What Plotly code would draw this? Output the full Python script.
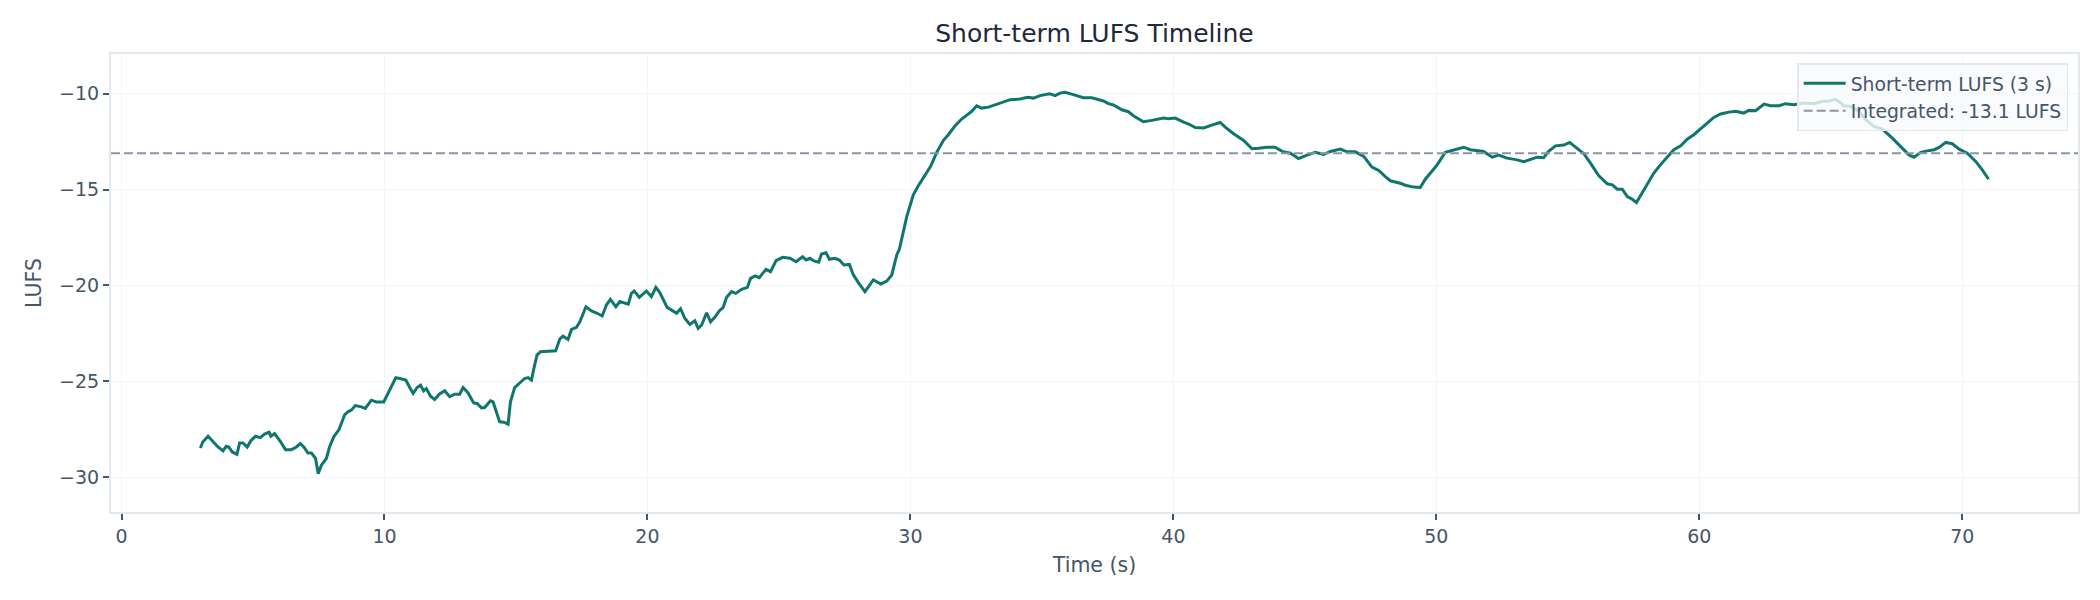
import plotly.graph_objects as go

# short-term loudness readings (time in s, loudness in LUFS)
time_s = [
    3.00, 3.09, 3.29, 3.48, 3.67, 3.86, 3.98, 4.08, 4.21, 4.39, 4.49, 4.62, 4.78, 4.93,
    5.10, 5.28, 5.44, 5.61, 5.68, 5.82, 6.01, 6.24, 6.46, 6.65, 6.80, 6.93, 7.09, 7.22,
    7.38, 7.48, 7.60, 7.79, 7.91, 8.07, 8.27, 8.49, 8.61, 8.74, 8.89, 9.12, 9.27, 9.50,
    9.69, 9.97, 10.20, 10.43, 10.58, 10.81, 10.96, 11.09, 11.24, 11.37, 11.49, 11.59,
    11.75, 11.91, 12.08, 12.29, 12.48, 12.67, 12.86, 12.99, 13.18, 13.39, 13.52, 13.69,
    13.81, 14.03, 14.13, 14.26, 14.38, 14.54, 14.70, 14.79, 14.95, 15.12, 15.33, 15.46,
    15.59, 15.68, 15.80, 15.93, 16.22, 16.51,
    16.67, 16.79, 16.98, 17.11, 17.30, 17.43, 17.66, 17.87, 18.09, 18.28, 18.44, 18.59,
    18.80, 18.95, 19.27, 19.39, 19.50, 19.69, 19.96, 20.15, 20.32, 20.47, 20.75, 20.98,
    21.11, 21.26, 21.42, 21.61, 21.80, 21.93, 22.06, 22.25, 22.40, 22.56, 22.73, 22.88,
    23.01, 23.20, 23.36, 23.58, 23.80, 23.92, 24.09, 24.25, 24.51, 24.68, 24.89, 25.14,
    25.42, 25.65, 25.90, 26.03, 26.18, 26.33, 26.51, 26.62, 26.79, 26.92, 27.13, 27.30,
    27.47, 27.68, 27.83, 28.02, 28.27, 28.59, 28.88, 29.10, 29.29, 29.48, 29.58, 29.86,
    30.11, 30.30, 30.56, 30.77,
    31.00, 31.25, 31.44, 31.70, 31.95, 32.21, 32.33, 32.52, 32.71, 32.97, 33.22, 33.47,
    33.79, 34.17, 34.46, 34.68, 34.93, 35.29, 35.50, 35.69, 35.88, 36.20, 36.58, 36.90,
    37.34, 37.53, 37.72, 38.04, 38.29, 38.51, 38.86, 39.18, 39.43, 39.62, 39.81, 40.07,
    40.39, 40.58, 40.83, 41.15, 41.46, 41.78, 41.97, 42.29, 42.67, 42.99, 43.24, 43.56,
    43.87, 44.17, 44.45, 44.76, 45.08, 45.40, 45.71, 45.97, 46.35, 46.60, 46.92, 47.24,
    47.55, 47.81, 48.06, 48.25, 48.63, 48.82, 49.14, 49.39, 49.58, 49.90,
    50.03, 50.34, 50.60, 50.85, 51.04, 51.29, 51.55, 51.80, 52.12, 52.37, 52.69, 53.07,
    53.32, 53.58, 53.83, 54.08, 54.27, 54.53, 54.85, 55.07, 55.33, 55.61, 55.86, 56.18,
    56.50, 56.69, 56.88, 57.07, 57.26, 57.45, 57.61, 57.76, 58.02, 58.27, 58.52, 58.78,
    59.03, 59.29, 59.54, 59.79, 60.05, 60.30, 60.55, 60.81, 61.12, 61.38, 61.69, 61.88,
    62.14, 62.46, 62.71, 63.03, 63.28, 63.60, 63.98, 64.36, 64.68, 64.93, 65.15, 65.31,
    65.50, 65.75, 66.07, 66.33, 66.64, 66.96, 67.34, 67.66, 67.97, 68.16, 68.42, 68.67,
    68.93, 69.12, 69.37, 69.62, 69.88, 70.19, 70.51, 70.76, 71.00,
]
lufs = [
    -28.47, -28.16, -27.86, -28.16, -28.42, -28.62, -28.38, -28.42, -28.68, -28.80, -28.21, -28.21, -28.42, -28.07,
    -27.86, -27.93, -27.75, -27.65, -27.86, -27.72, -28.07, -28.56, -28.56, -28.42, -28.24, -28.42, -28.73, -28.73,
    -29.02, -29.81, -29.37, -29.02, -28.42, -27.89, -27.51, -26.73, -26.59, -26.50, -26.26, -26.33, -26.41, -25.98,
    -26.07, -26.07, -25.42, -24.81, -24.85, -24.93, -25.32, -25.63, -25.32, -25.20, -25.49, -25.37,
    -25.77, -25.94, -25.67, -25.49, -25.80, -25.67, -25.67, -25.32, -25.60, -26.12, -26.15, -26.38,
    -26.36, -26.01, -26.07, -26.67, -27.11, -27.13, -27.23, -26.07, -25.32, -25.11, -24.85, -24.80,
    -24.93, -24.33, -23.63, -23.45, -23.42, -23.40,
    -22.78, -22.64, -22.81, -22.29, -22.18, -21.89, -21.11, -21.33, -21.45, -21.59, -21.02, -20.72,
    -21.11, -20.84, -20.97, -20.41, -20.29, -20.62, -20.29, -20.58, -20.10, -20.37, -21.14, -21.33,
    -21.45, -21.21, -21.71, -22.03, -21.84, -22.24, -22.06, -21.42, -21.89, -21.66, -21.33, -21.14,
    -20.62, -20.32, -20.41, -20.20, -20.10, -19.63, -19.50, -19.59, -19.16, -19.28, -18.70, -18.53,
    -18.58, -18.76, -18.50, -18.67, -18.58, -18.72, -18.79, -18.36, -18.29, -18.63, -18.58, -18.67,
    -18.93, -18.90, -19.45, -19.85, -20.32, -19.71, -19.92, -19.77, -19.45, -18.41, -18.11, -16.41,
    -15.27, -14.80, -14.23, -13.79,
    -13.06, -12.44, -12.14, -11.67, -11.32, -11.06, -10.92, -10.63, -10.75, -10.70, -10.59, -10.44,
    -10.31, -10.28, -10.19, -10.23, -10.10, -10.00, -10.10, -9.97, -9.93, -10.05, -10.21, -10.21,
    -10.38, -10.52, -10.59, -10.84, -10.94, -11.18, -11.46, -11.39, -11.32, -11.27, -11.31, -11.27,
    -11.48, -11.58, -11.76, -11.79, -11.64, -11.50, -11.74, -12.09, -12.44, -12.87, -12.85, -12.79,
    -12.79, -13.03, -13.10, -13.38, -13.20, -13.05, -13.17, -13.01, -12.89, -13.03, -13.03, -13.27,
    -13.83, -14.00, -14.32, -14.54, -14.67, -14.77, -14.87, -14.89, -14.46, -13.92,
    -13.71, -13.06, -12.96, -12.89, -12.79, -12.92, -12.98, -13.01, -13.31, -13.20, -13.36, -13.45,
    -13.55, -13.41, -13.31, -13.34, -13.01, -12.72, -12.68, -12.54, -12.84, -13.13, -13.62, -14.28,
    -14.70, -14.75, -14.98, -14.98, -15.36, -15.50, -15.67, -15.33, -14.75, -14.14, -13.71, -13.31,
    -12.92, -12.72, -12.37, -12.14, -11.85, -11.53, -11.24, -11.06, -10.96, -10.92, -11.01, -10.87,
    -10.89, -10.54, -10.63, -10.63, -10.52, -10.58, -10.49, -10.52, -10.40, -10.40, -10.28, -10.40,
    -10.63, -10.66, -10.92, -11.36, -11.71, -11.85, -12.32, -12.79, -13.19, -13.31, -13.06, -12.98,
    -12.92, -12.80, -12.54, -12.61, -12.89, -13.10, -13.53, -13.97, -14.46,
]

integrated_lufs = -13.1
x_range = [-0.4, 74.4]
y_range = [-31.81, -7.93]

font = "DejaVu Sans"
text_col = "#475569"
spine_col = "#e2e8f0"
grid_col = "#f1f5f9"

# page body has an 8px margin, so the figure is sized to fit inside it
W, H = 2084, 584

fig = go.Figure()

fig.add_trace(go.Scatter(
    x=time_s, y=lufs, mode="lines",
    name="Short-term LUFS (3 s)",
    line=dict(color="#0f766e", width=3),
))

# integrated level spans the whole axis, like an axhline
fig.add_trace(go.Scatter(
    x=x_range, y=[integrated_lufs, integrated_lufs], mode="lines",
    name=f"Integrated: {integrated_lufs} LUFS",
    line=dict(color="#8b95a7", width=2, dash="9px,4px"),
))

axis_style = dict(
    showgrid=True, gridcolor=grid_col, gridwidth=1.2,
    showline=True, linecolor=spine_col, linewidth=2, mirror=True,
    ticks="outside", ticklen=6, tickwidth=1.5, tickcolor=text_col,
    zeroline=False,
    tickfont=dict(family=font, size=19, color=text_col),
)

fig.update_layout(
    width=W, height=H,
    margin=dict(l=103, r=14, t=46, b=80),
    paper_bgcolor="white", plot_bgcolor="white",
    font=dict(family=font, color=text_col),
    title=dict(
        text="Short-term LUFS Timeline",
        x=0.5, xref="paper", xanchor="center",
        y=1 - 25 / H, yref="container", yanchor="middle",
        font=dict(family=font, size=25, color="#1e293b"),
    ),
    xaxis=dict(
        range=x_range, tick0=0, dtick=10,
        title=dict(text="Time (s)", font=dict(family=font, size=20.5, color=text_col), standoff=12),
        **axis_style,
    ),
    yaxis=dict(
        range=y_range, tick0=-30, dtick=5,
        title=dict(text="LUFS", font=dict(family=font, size=20.5, color=text_col), standoff=12),
        **axis_style,
    ),
    legend=dict(
        x=0.995, y=0.98, xanchor="right", yanchor="top",
        bgcolor="rgba(248,250,252,0.8)", bordercolor=spine_col, borderwidth=1.5,
        font=dict(family=font, size=18.75, color=text_col),
        itemwidth=42,
    ),
    showlegend=True,
)

fig.write_html("out.html")
